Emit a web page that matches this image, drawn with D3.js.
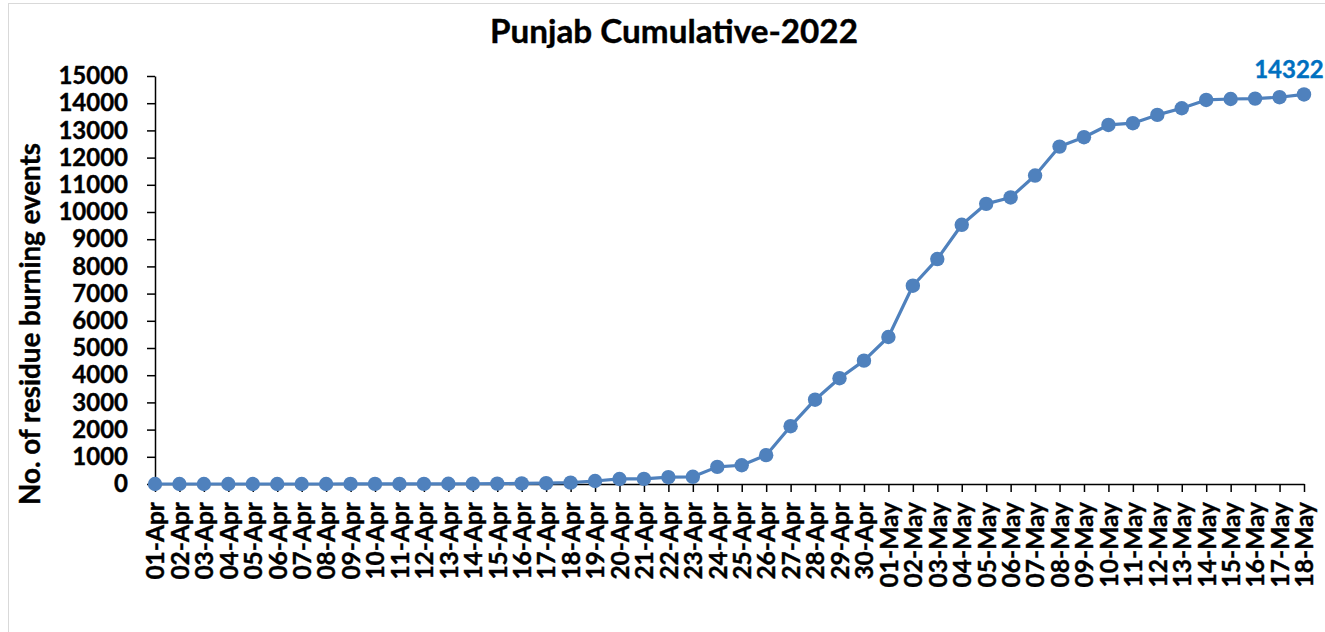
<!DOCTYPE html>
<html>
<head>
<meta charset="utf-8">
<script src="https://cdn.jsdelivr.net/npm/d3@7"></script>
<style>
  html, body { margin: 0; padding: 0; background: #fff; }
  svg { display: block; font-family: Lato, "Open Sans", sans-serif; font-weight: 700; }
</style>
</head>
<body>
<svg id="chart"></svg>
<script>
let width = 1325
let height = 632

// dates on the x axis
let dates = ['01-Apr', '02-Apr', '03-Apr', '04-Apr', '05-Apr', '06-Apr', '07-Apr', '08-Apr',
    '09-Apr', '10-Apr', '11-Apr', '12-Apr', '13-Apr', '14-Apr', '15-Apr', '16-Apr',
    '17-Apr', '18-Apr', '19-Apr', '20-Apr', '21-Apr', '22-Apr', '23-Apr', '24-Apr',
    '25-Apr', '26-Apr', '27-Apr', '28-Apr', '29-Apr', '30-Apr', '01-May', '02-May',
    '03-May', '04-May', '05-May', '06-May', '07-May', '08-May', '09-May', '10-May',
    '11-May', '12-May', '13-May', '14-May', '15-May', '16-May', '17-May', '18-May']

// cumulative residue burning events
let events = [0, 0, 0, 0, 0, 0, 0, 0,
    2, 3, 4, 5, 8, 10, 15, 20,
    30, 50, 110, 185, 190, 250, 265, 630,
    690, 1060, 2125, 3100, 3890, 4535, 5405, 7290,
    8270, 9530, 10300, 10535, 11340, 12405, 12750, 13200,
    13265, 13570, 13815, 14120, 14155, 14170, 14220, 14322]

let yTicks = d3.range(0, 15001, 1000)

let title = 'Punjab Cumulative-2022'
let yTitle = 'No. of residue burning events'

let padding = { left: 155, right: 21, top: 76, bottom: 148 }

let svg = d3.select('#chart')
    .attr('width', width)
    .attr('height', height)

// chart frame
svg.append('rect')
    .attr('x', 8.5)
    .attr('y', 3.5)
    .attr('width', width + 10)
    .attr('height', height + 10)
    .attr('fill', '#fff')
    .attr('stroke', '#d9d9d9')
    .attr('stroke-width', 1)

let x = d3.scalePoint()
    .domain(dates)
    .range([padding.left, width - padding.right])

let y = d3.scaleLinear()
    .domain([0, 15000])
    .range([height - padding.bottom, padding.top])

// y axis
let yAxis = svg.append('g')
    .attr('transform', `translate(${padding.left},0)`)
    .call(d3.axisLeft(y).tickValues(yTicks).tickSize(8).tickSizeOuter(0).tickPadding(19).tickFormat(d3.format('d')))
yAxis.selectAll('text')
    .style('font-size', '24px')
    .style('font-family', 'Lato, sans-serif')
    .style('font-weight', 700)
    .attr('fill', '#000')
    .attr('stroke', '#000')
    .attr('stroke-width', 0.4)
yAxis.selectAll('line, path').attr('stroke', '#000').attr('stroke-width', 1.5)

// x axis
let xAxis = svg.append('g')
    .attr('transform', `translate(0,${height - padding.bottom})`)
    .call(d3.axisBottom(x).tickSize(8).tickSizeOuter(0).tickPadding(0))
xAxis.selectAll('text')
    .style('font-size', '24.5px')
    .style('font-family', 'Lato, sans-serif')
    .style('font-weight', 700)
    .attr('fill', '#000')
    .attr('stroke', '#000')
    .attr('stroke-width', 0.4)
    .attr('text-anchor', 'end')
    .attr('transform', 'rotate(-90)')
    .attr('x', -18)
    .attr('y', 0)
    .attr('dy', '0.36em')
xAxis.selectAll('line, path').attr('stroke', '#000').attr('stroke-width', 1.5)

// line + markers
let line = d3.line()
    .x((d, i) => x(dates[i]))
    .y(d => y(d))

svg.append('path')
    .datum(events)
    .attr('d', line)
    .attr('fill', 'none')
    .attr('stroke', '#4f81bd')
    .attr('stroke-width', 3.2)
    .attr('stroke-linejoin', 'round')

svg.append('g')
    .selectAll('circle')
    .data(events)
    .join('circle')
    .attr('cx', (d, i) => x(dates[i]))
    .attr('cy', d => y(d))
    .attr('r', 7.2)
    .attr('fill', '#4f81bd')

// label on the last point
let last = events.length - 1
svg.append('text')
    .attr('x', x(dates[last]) - 15)
    .attr('y', y(events[last]) - 16)
    .attr('text-anchor', 'middle')
    .style('font-size', '24px')
    .attr('fill', '#0070c0')
    .attr('stroke', '#0070c0')
    .attr('stroke-width', 0.4)
    .text(d3.format('d')(events[last]))

// title
let t = svg.append('text')
    .attr('x', 674)
    .attr('y', 43)
    .attr('text-anchor', 'middle')
    .style('font-size', '30px')
    .attr('fill', '#000')
    .attr('stroke', '#000')
    .attr('stroke-width', 0.4)
    .text(title)
let tw = t.node().getComputedTextLength()
t.style('font-size', (30 * 368 / tw) + 'px')

// y axis title
let yt = svg.append('text')
    .attr('transform', `translate(40,${(143 + 505) / 2}) rotate(-90)`)
    .attr('text-anchor', 'middle')
    .style('font-size', '24px')
    .attr('fill', '#000')
    .attr('stroke', '#000')
    .attr('stroke-width', 0.4)
    .text(yTitle)
let yw = yt.node().getComputedTextLength()
yt.style('font-size', (24 * 362 / yw) + 'px')
</script>
</body>
</html>
